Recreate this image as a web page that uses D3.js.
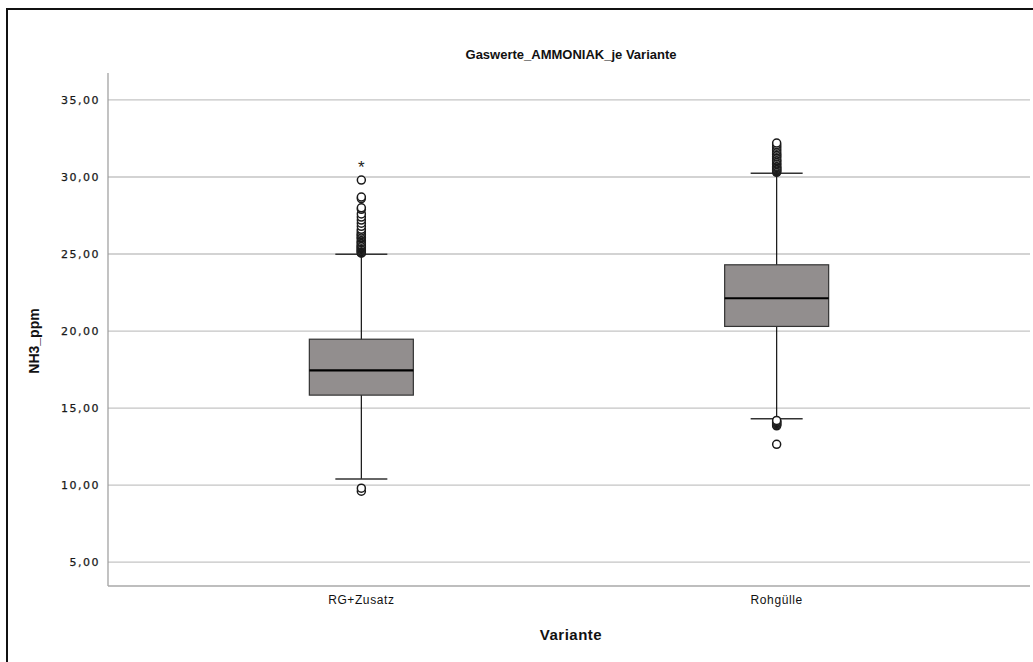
<!DOCTYPE html>
<meta charset="utf-8">
<script src="https://d3js.org/d3.v7.min.js"></script>
<style>
  body { margin: 0; background: #fff; }
  svg { display: block; }
</style>
<div id="chart"></div>
<script>
// Boxplot: Gaswerte_AMMONIAK_je Variante

const categories = ["RG+Zusatz", "Rohgülle"];
const q1Values = [15.84, 20.30];
const medianValues = [17.45, 22.13];
const q3Values = [19.47, 24.30];
const whiskerLow = [10.40, 14.30];
const whiskerHigh = [24.98, 30.25];

const outliersRG = [9.6, 9.8, 25.05, 25.1, 25.15, 25.2, 25.25, 25.3, 25.35, 25.4, 25.45, 25.5,
  25.55, 25.6, 25.7, 25.75, 25.8, 25.9, 26.0, 26.05, 26.1, 26.2, 26.25, 26.3, 26.4, 26.5, 26.6,
  26.8, 27.0, 27.2, 27.4, 27.6, 27.9, 28.0, 28.6, 28.7, 29.8];
const outliersRohg = [12.65, 13.85, 13.9, 13.95, 14.0, 14.05, 14.1, 14.15, 14.2,
  30.3, 30.35, 30.4, 30.45, 30.5, 30.55, 30.6, 30.65, 30.7, 30.8, 30.85, 30.9, 31.0, 31.05,
  31.1, 31.2, 31.3, 31.35, 31.45, 31.5, 31.6, 31.7, 31.8, 31.9, 32.0, 32.1, 32.2];
const extremesRG = [30.9];
const extremesRohg = [];

const yTicks = [5, 10, 15, 20, 25, 30, 35];

const W = 1033, H = 662;
const plotLeft = 108, plotRight = 1030, plotTop = 73, plotBottom = 586;

const svg = d3.select("#chart").append("svg")
  .attr("width", W)
  .attr("height", H);

// outer frame
svg.append("rect")
  .attr("x", 7).attr("y", 9)
  .attr("width", 1100).attr("height", 800)
  .attr("fill", "none")
  .attr("stroke", "#111")
  .attr("stroke-width", 2);

const y = d3.scaleLinear().domain([3.45, 36.75]).range([plotBottom, plotTop]);
const x = d3.scalePoint().domain(categories).range([plotLeft, plotRight]).padding(0.61);

const fmt = v => d3.format(".2f")(v).replace(".", ",");

// grid + y axis
const yAxis = svg.append("g")
  .attr("transform", `translate(${plotLeft},0)`)
  .call(d3.axisLeft(y).tickValues(yTicks).tickFormat(fmt).tickSize(0).tickPadding(8));
yAxis.select(".domain").remove();
yAxis.selectAll("text")
  .attr("fill", "#1a1a1a")
  .style("font-family", "DejaVu Sans, sans-serif")
  .style("font-size", "11px")
  .style("letter-spacing", "1.5px")
  .attr("stroke", "#1a1a1a")
  .attr("stroke-width", 0.25);

svg.append("g").selectAll("line")
  .data(yTicks)
  .join("line")
  .attr("x1", plotLeft).attr("x2", plotRight)
  .attr("y1", d => y(d)).attr("y2", d => y(d))
  .attr("stroke", "#c4c4c4")
  .attr("stroke-width", 1.3);

// axis lines
svg.append("line")
  .attr("x1", plotLeft).attr("x2", plotLeft).attr("y1", plotTop).attr("y2", plotBottom)
  .attr("stroke", "#9a9a9a").attr("stroke-width", 1.2);
svg.append("line")
  .attr("x1", plotLeft).attr("x2", plotRight).attr("y1", plotBottom).attr("y2", plotBottom)
  .attr("stroke", "#a8a8a8").attr("stroke-width", 1.6);

// x axis labels
svg.append("g").selectAll("text")
  .data(categories)
  .join("text")
  .attr("x", d => x(d))
  .attr("y", 604)
  .attr("text-anchor", "middle")
  .attr("fill", "#111")
  .style("font-family", "Liberation Sans, sans-serif")
  .style("font-size", "12px")
  .style("letter-spacing", "0.6px")
  .text(d => d);

// boxes
const boxW = 104, capW = 52;
const boxes = svg.append("g").selectAll("g")
  .data(categories.map((c, i) => ({
    c, q1: q1Values[i], med: medianValues[i], q3: q3Values[i], lo: whiskerLow[i], hi: whiskerHigh[i]
  })))
  .join("g");

boxes.append("line")
  .attr("x1", d => x(d.c)).attr("x2", d => x(d.c))
  .attr("y1", d => y(d.hi)).attr("y2", d => y(d.lo))
  .attr("stroke", "#111").attr("stroke-width", 1.2);
boxes.append("line")
  .attr("x1", d => x(d.c) - capW / 2).attr("x2", d => x(d.c) + capW / 2)
  .attr("y1", d => y(d.hi)).attr("y2", d => y(d.hi))
  .attr("stroke", "#333").attr("stroke-width", 1.5);
boxes.append("line")
  .attr("x1", d => x(d.c) - capW / 2).attr("x2", d => x(d.c) + capW / 2)
  .attr("y1", d => y(d.lo)).attr("y2", d => y(d.lo))
  .attr("stroke", "#333").attr("stroke-width", 1.5);
boxes.append("rect")
  .attr("x", d => x(d.c) - boxW / 2)
  .attr("width", boxW)
  .attr("y", d => y(d.q3))
  .attr("height", d => y(d.q1) - y(d.q3))
  .attr("fill", "#928e8e")
  .attr("stroke", "#333")
  .attr("stroke-width", 1.2);
boxes.append("line")
  .attr("x1", d => x(d.c) - boxW / 2).attr("x2", d => x(d.c) + boxW / 2)
  .attr("y1", d => y(d.med)).attr("y2", d => y(d.med))
  .attr("stroke", "#000").attr("stroke-width", 2.2);

// outliers
const outlierData = [
  ...outliersRG.map(v => ({ c: categories[0], v })),
  ...outliersRohg.map(v => ({ c: categories[1], v }))
];
svg.append("g").selectAll("circle")
  .data(outlierData)
  .join("circle")
  .attr("cx", d => x(d.c))
  .attr("cy", d => y(d.v))
  .attr("r", 4)
  .attr("fill", "#fff")
  .attr("stroke", "#1a1a1a")
  .attr("stroke-width", 1.5);

const extremeData = [
  ...extremesRG.map(v => ({ c: categories[0], v })),
  ...extremesRohg.map(v => ({ c: categories[1], v }))
];
svg.append("g").selectAll("text")
  .data(extremeData)
  .join("text")
  .attr("x", d => x(d.c))
  .attr("y", d => y(d.v) + 10)
  .attr("text-anchor", "middle")
  .attr("fill", "#222")
  .style("font-family", "Liberation Sans, sans-serif")
  .style("font-size", "17px")
  .text("*");

// titles
svg.append("text")
  .attr("x", 571).attr("y", 59)
  .attr("text-anchor", "middle")
  .attr("fill", "#111")
  .style("font-family", "Liberation Sans, sans-serif")
  .style("font-weight", "bold")
  .style("font-size", "13px")
  .text("Gaswerte_AMMONIAK_je Variante");

svg.append("text")
  .attr("x", 571).attr("y", 640)
  .attr("text-anchor", "middle")
  .attr("fill", "#111")
  .style("font-family", "Liberation Sans, sans-serif")
  .style("font-weight", "bold")
  .style("font-size", "15px")
  .style("letter-spacing", "0.5px")
  .text("Variante");

svg.append("text")
  .attr("transform", "translate(39,341) rotate(-90)")
  .attr("text-anchor", "middle")
  .attr("fill", "#111")
  .style("font-family", "Liberation Sans, sans-serif")
  .style("font-weight", "bold")
  .style("font-size", "14px")
  .text("NH3_ppm");
</script>
